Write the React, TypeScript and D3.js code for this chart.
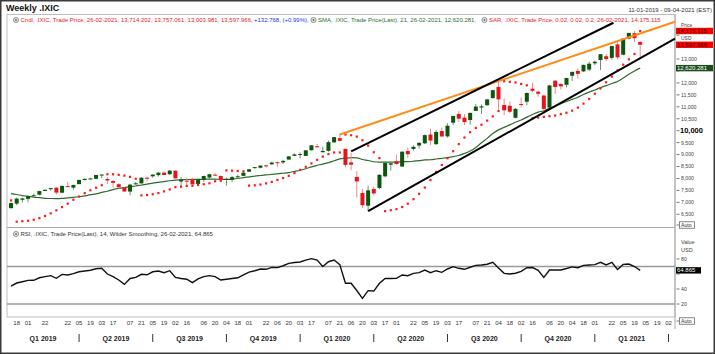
import React, { useEffect } from "react";
import * as d3 from "d3";

const W = 715;
const H = 354;

// weekly candles, Friday 11-01-2019 .. Friday 26-02-2021
const opens = [
  6757, 6947, 7108, 7145, 7263, 7321, 7478, 7555, 7615, 7404, 7680, 7615, 7762, 7936, 7996, 7985,
  8152, 7977, 7892, 7760, 7624, 7450, 7773, 7794, 8031, 8091, 8140, 8245, 8178, 8326, 7872, 7910,
  7962, 7771, 7947, 8040, 8159, 8102, 7970, 7944, 8055, 8110, 8282, 8438, 8448, 8550, 8592, 8680,
  8674, 8791, 8946, 8999, 8943, 9181, 9349, 9100, 9156, 9510, 9688, 9240, 8671, 8064, 7390, 6860,
  7560, 7600, 8090, 8575, 8720, 8500, 9147, 9235, 9380, 9472, 9839, 9436, 9987, 9761, 10335, 10700,
  10547, 10447, 10829, 10970, 11068, 11367, 11830, 11078, 11044, 10540, 11115, 11213, 11757, 11632, 11474, 10965,
  12096, 11957, 11922, 12300, 12501, 12483, 12558, 12821, 12959, 13118, 13050, 13612, 13180, 13859, 14083, 13714,
];
const highs = [
  6986, 7196, 7193, 7295, 7366, 7482, 7534, 7600, 7623, 7701, 7850, 7738, 7949, 7995, 8033, 8147,
  8176, 8062, 7931, 7804, 7640, 7779, 7858, 8053, 8078, 8176, 8257, 8280, 8340, 8340, 8060, 8040,
  8032, 7992, 8116, 8195, 8237, 8128, 8031, 8108, 8163, 8256, 8391, 8482, 8541, 8572, 8707, 8705,
  8782, 8940, 9052, 9093, 9186, 9390, 9451, 9332, 9588, 9738, 9838, 9250, 9071, 8305, 7566, 7700,
  7664, 8180, 8700, 8685, 9000, 9133, 9296, 9391, 9523, 9846, 10087, 10022, 10134, 10310, 10632, 10825,
  10703, 10760, 11109, 11100, 11311, 11715, 12074, 11350, 11217, 10941, 11399, 11594, 12000, 11688, 11490, 11920,
  12110, 11985, 12212, 12465, 12609, 12764, 12889, 12930, 13208, 13216, 13562, 13728, 13878, 14095, 14175, 13757,
];
const lows = [
  6743, 6880, 7000, 7003, 7237, 7292, 7467, 7482, 7332, 7383, 7637, 7525, 7761, 7918, 7968, 7970,
  8014, 7773, 7606, 7582, 7452, 7292, 7731, 7785, 7876, 8031, 8079, 8137, 8151, 7997, 7663, 7693,
  7741, 7740, 7856, 7939, 8112, 7925, 7700, 7855, 7986, 8102, 8271, 8412, 8420, 8450, 8580, 8488,
  8608, 8790, 8939, 8838, 8943, 9170, 9274, 9088, 9120, 9500, 9546, 8464, 8356, 7195, 6771, 6631,
  7287, 7560, 8050, 8325, 8573, 8490, 8856, 9170, 9260, 9440, 9403, 9403, 9757, 9716, 10238, 10360,
  10236, 10250, 10827, 10706, 11045, 11342, 10876, 10657, 10733, 10520, 10984, 11066, 11608, 11424, 10822, 10931,
  11537, 11719, 11809, 12082, 12168, 12463, 12500, 12744, 12543, 12911, 12978, 13004, 13153, 13817, 13711, 13004,
];
const closes = [
  6971, 7157, 7165, 7264, 7298, 7472, 7528, 7595, 7408, 7689, 7643, 7729, 7939, 7984, 8000, 8146,
  8164, 7917, 7816, 7637, 7453, 7742, 7797, 8032, 8006, 8162, 8244, 8146, 8330, 8004, 7959, 7896,
  7752, 7963, 8103, 8177, 8118, 7940, 7982, 8057, 8090, 8243, 8386, 8475, 8541, 8520, 8665, 8657,
  8735, 8925, 9007, 9021, 9179, 9389, 9315, 9151, 9521, 9731, 9577, 8567, 8576, 7875, 6880, 7502,
  7373, 8154, 8650, 8635, 8605, 9121, 9015, 9325, 9490, 9814, 9589, 9946, 9757, 10208, 10617, 10503,
  10363, 10745, 11011, 11019, 11312, 11696, 11313, 10854, 10793, 10914, 11075, 11580, 11672, 11548, 10912, 11895,
  11829, 11855, 12206, 12464, 12378, 12756, 12805, 12888, 13202, 12999, 13543, 13071, 13856, 14095, 13874, 13598,
];
const sma21 = [
  7366, 7329, 7284, 7253, 7219, 7195, 7170, 7161, 7157, 7168, 7191, 7209, 7234, 7269, 7320, 7358,
  7415, 7463, 7534, 7584, 7618, 7655, 7685, 7726, 7762, 7803, 7840, 7869, 7904, 7932, 7945, 7957,
  7958, 7960, 7965, 7974, 7972, 7962, 7965, 7976, 7998, 8035, 8066, 8098, 8123, 8147, 8171, 8191,
  8219, 8247, 8295, 8345, 8407, 8484, 8549, 8599, 8663, 8740, 8818, 8845, 8870, 8860, 8795, 8753,
  8700, 8682, 8688, 8687, 8684, 8703, 8707, 8722, 8744, 8775, 8784, 8814, 8843, 8876, 8918, 8962,
  9048, 9151, 9300, 9497, 9679, 9885, 10035, 10140, 10243, 10353, 10446, 10568, 10680, 10778, 10830, 10940,
  11029, 11129, 11224, 11312, 11402, 11516, 11614, 11703, 11807, 11887, 11975, 12059, 12202, 12359, 12500, 12620,
];
const sar = [
  7080, 6190, 6210, 6230, 6273, 6339, 6430, 6540, 6667, 6801, 6945, 7108, 7242, 7383, 7505, 7611,
  7718, 8176, 8176, 8153, 8119, 8066, 7988, 7292, 7307, 7338, 7388, 7458, 7540, 7636, 7655, 7686,
  7690, 7728, 7757, 7799, 7883, 7905, 8340, 8327, 8314, 8302, 7700, 7714, 7745, 7793, 7855, 7940,
  8017, 8109, 8225, 8357, 8489, 8628, 8780, 8914, 9021, 9088, 9088, 9838, 9811, 9753, 9600, 9374,
  9100, 8853, 6631, 6672, 6713, 6804, 6944, 7132, 7358, 7618, 7930, 8275, 8565, 8847, 9140, 9438,
  9715, 9937, 10115, 10250, 10422, 10600, 10823, 12074, 12046, 12018, 11958, 11900, 10520, 10550, 10579, 10607,
  10635, 10694, 10751, 10839, 10969, 11133, 11329, 11547, 11768, 12027, 12265, 12524, 12765, 12988, 13209, 14175.115,
];
const rsi14 = [
  44, 48, 49.7, 51.5, 51.6, 55, 56.5, 57.8, 54.3, 59.5, 58.7, 60.5, 63, 64, 65, 67,
  67.6, 60, 56.5, 52, 46.2, 54, 55.5, 59.6, 59, 63, 64, 61.8, 64.4, 55.5, 54, 53,
  48.5, 53.5, 56.5, 57.8, 56.5, 52, 53, 54, 55, 59, 62.5, 64.4, 66.7, 66.3, 68.9, 68.5,
  71, 74.2, 75.3, 76, 78.5, 80.5, 78.5, 70, 76.4, 78.7, 72.5, 47.6, 47.6, 38, 27.6, 37.8,
  37.3, 47.6, 54.2, 54, 54.2, 58.7, 57.8, 60.9, 61.8, 65.3, 61.8, 64.4, 62.2, 66.7, 69.8, 67.6,
  66.3, 69, 71.5, 72, 73, 75.6, 68, 60.9, 60, 61, 63.5, 68.4, 68.6, 65, 55.6, 65.3,
  65.3, 65.3, 67.3, 69.5, 68.4, 71.5, 72, 72.5, 75.5, 72, 75.5, 66, 72.8, 73.3, 70, 64.865,
];

// hand drawn lines: [date, price] -> [date, price]
const trendFrom = [["2020-02-21", 9838], ["2020-03-06", 9130], ["2020-03-27", 6631]];
const trendTo = [["2021-04-10", 14561], ["2021-01-24", 14520], ["2021-04-10", 13852]];
const trendColors = ["#ff8c1a", "#000000", "#000000"];

const dateTicks = [
  "2019-01-18", "2019-02-01", "2019-02-22", "2019-03-22", "2019-04-05", "2019-04-19", "2019-05-03", "2019-05-17",
  "2019-06-07", "2019-06-21", "2019-07-05", "2019-07-19", "2019-08-02", "2019-08-16", "2019-09-06", "2019-09-20",
  "2019-10-04", "2019-10-18", "2019-11-01", "2019-11-22", "2019-12-06", "2019-12-20", "2020-01-03", "2020-01-17",
  "2020-02-07", "2020-02-21", "2020-03-06", "2020-03-20", "2020-04-03", "2020-04-17", "2020-05-01", "2020-05-22",
  "2020-06-05", "2020-06-19", "2020-07-03", "2020-07-17", "2020-08-07", "2020-08-21", "2020-09-04", "2020-09-18",
  "2020-10-02", "2020-10-16", "2020-11-06", "2020-11-20", "2020-12-04", "2020-12-18", "2021-01-01", "2021-01-22",
  "2021-02-05", "2021-02-19", "2021-03-05", "2021-03-19", "2021-04-02",
];
const quarterStarts = [
  "2019-04-05", "2019-07-05", "2019-10-04", "2020-01-03", "2020-04-03", "2020-07-03", "2020-10-02", "2021-01-01", "2021-04-02",
];
const quarterLabels = ["Q1 2019", "Q2 2019", "Q3 2019", "Q4 2019", "Q1 2020", "Q2 2020", "Q3 2020", "Q4 2020", "Q1 2021"];

// 12,500 / 13,500 / 14,000 sit under the value boxes, only their dashes show
const priceTicks = [6500, 7000, 7500, 8000, 8500, 9000, 9500, 10000, 10500, 11000, 11500, 12000, 12500, 13000, 13500, 14000];
const hiddenPriceLabels = [12500, 13500, 14000];
const rsiTicks = [20, 40, 80];
const rsiLevels = [70, 20];

const FONT = "'Liberation Sans', Arial, sans-serif";
const UP = "#0d560d";
const DOWN = "#e5141c";

const parse = d3.timeParse("%Y-%m-%d");
const weeks = d3.timeFriday.range(new Date(2019, 0, 11), new Date(2021, 1, 27));

const L = 7;
const R = 675;
const PT = 14.5;
const PB = 227.5;
const RB = 317;

const x = d3.scaleTime().domain([parse("2019-01-06"), parse("2021-04-10")]).range([L, R]);
const y = d3.scaleLinear().domain([5947, 14865]).range([PB, PT]);
const yr = d3.scaleLinear().domain([2.7, 122]).range([RB, PB]);

const fmt = d3.format(",");
const fmt3 = d3.format(",.3f");

const Icon = ({ cx, cy }: { cx: number; cy: number }) => (
  <g>
    <circle cx={cx} cy={cy} r={2.6} fill="#e6e6e6" stroke="#707070" strokeWidth={0.7} />
    <circle cx={cx} cy={cy} r={0.9} fill="#606060" />
  </g>
);

const ValueBox = ({ v, fill, color, width, text }: { v: number; fill: string; color: string; width: number; text: string }) => (
  <g>
    <rect x={676} y={v - 3.2} width={width} height={6.4} fill={fill} />
    <text x={677} y={v + 2} fontSize={6} fill={color}>{text}</text>
  </g>
);

const App = () => {
  useEffect(() => {
    document.body.style.margin = "0";
  }, []);

  const smaLine = d3
    .line<number>()
    .x((d, i) => x(weeks[i]))
    .y((d) => y(d))
    .curve(d3.curveMonotoneX);
  const rsiLine = d3
    .line<number>()
    .x((d, i) => x(weeks[i]))
    .y((d) => yr(d));

  const qx = quarterStarts.map((d) => x(parse(d)!));
  const qBounds = [L, ...qx];

  const lastSar = sar[sar.length - 1];
  const lastSma = sma21[sma21.length - 1];
  const lastRsi = rsi14[rsi14.length - 1];

  return (
    <svg width={W} height={H} style={{ position: "absolute", left: 0, top: 0, fontFamily: FONT }}>
      <rect x={0} y={0} width={W} height={H} fill="#fff" />
      <rect x={0.75} y={0.75} width={W - 1.5} height={H - 1.5} fill="none" stroke="#3a3a3a" strokeWidth={1.5} />

      <text x={6} y={11} fontSize={9} fontWeight="bold" fill="#111">Weekly .IXIC</text>
      <text x={712} y={12} fontSize={6} fill="#333" textAnchor="end">11-01-2019 - 09-04-2021 (EST)</text>

      {/* panel frame */}
      <rect x={L} y={PT} width={R - L} height={RB - PT} fill="none" stroke="#bdbdbd" strokeWidth={1} />
      <line x1={L} x2={R} y1={PB} y2={PB} stroke="#a8a8a8" strokeWidth={1} />
      <line x1={R} x2={R} y1={PT} y2={329} stroke="#a8a8a8" strokeWidth={1} />

      {/* legend */}
      <Icon cx={16} cy={20} />
      <text x={20.5} y={22.2} fontSize={6} fill="#e8202a">
        Cndl, .IXIC, Trade Price, 26-02-2021, 13,714.202, 13,757.061, 13,003.981, 13,597.966,
      </text>
      <text x={254} y={22.2} fontSize={6} fill="#2233ee">+132.768, (+0.99%),</text>
      <Icon cx={313.5} cy={20} />
      <text x={318} y={22.2} fontSize={6} fill="#2d6e2d">
        SMA, .IXIC, Trade Price(Last),  21, 26-02-2021, 12,620.281,
      </text>
      <Icon cx={484.5} cy={20} />
      <text x={489} y={22.2} fontSize={6} fill="#e8202a">
        SAR, .IXIC, Trade Price,  0.02, 0.02, 0.2, 26-02-2021, 14,175.115
      </text>

      {/* SMA */}
      <path d={smaLine(sma21) || ""} fill="none" stroke="#2f6b2f" strokeWidth={1.2} />

      {/* candles */}
      {weeks.map((d, i) => {
        const o = opens[i];
        const c = closes[i];
        const up = c >= o;
        const cx = x(d);
        const top = y(Math.max(o, c));
        const bot = y(Math.min(o, c));
        return (
          <g key={i}>
            <line x1={cx} x2={cx} y1={y(highs[i])} y2={y(lows[i])} stroke={up ? "#6e8f6e" : "#f08a8a"} strokeWidth={1} />
            <rect x={cx - 2} y={top} width={4} height={Math.max(1, bot - top)} fill={up ? UP : DOWN} />
          </g>
        );
      })}

      {/* SAR */}
      {weeks.map((d, i) => (
        <rect key={"s" + i} x={x(d) - 1.1} y={y(sar[i]) - 1.1} width={2.2} height={2.2} fill="#ff1a1a" />
      ))}

      {/* trend lines */}
      {trendFrom.map((f, i) => (
        <line
          key={"t" + i}
          x1={x(parse(f[0] as string)!)}
          y1={y(f[1] as number)}
          x2={x(parse(trendTo[i][0] as string)!)}
          y2={y(trendTo[i][1] as number)}
          stroke={trendColors[i]}
          strokeWidth={2}
        />
      ))}

      {/* price axis */}
      <text x={681} y={27.2} fontSize={5} fill="#444">Price</text>
      <text x={681} y={39.6} fontSize={5} fill="#444">USD</text>
      {priceTicks.map((v) => (
        <g key={"p" + v}>
          <line x1={676.5} x2={679.5} y1={y(v)} y2={y(v)} stroke="#555" strokeWidth={0.8} />
          {hiddenPriceLabels.includes(v) ? null : v === 10000 ? (
            <text x={680} y={y(v) + 2.6} fontSize={7.5} fontWeight="bold" fill="#000">{fmt(v)}</text>
          ) : (
            <text x={681} y={y(v) + 1.9} fontSize={5.2} fill="#444">{fmt(v)}</text>
          )}
        </g>
      ))}
      <ValueBox v={y(lastSar)} fill="#ff0000" color="#111" width={37} text={fmt3(lastSar)} />
      <ValueBox v={y(13597.966)} fill="#ff0000" color="#111" width={37} text="13,597.966" />
      <ValueBox v={y(lastSma)} fill="#1c4d1c" color="#fff" width={37} text="12,620.281" />
      <line x1={676.5} x2={679.5} y1={225} y2={225} stroke="#555" strokeWidth={0.8} />
      <rect x={679.5} y={221.8} width={15} height={6.4} fill="#fff" stroke="#555" strokeWidth={0.7} />
      <text x={681} y={226.8} fontSize={5.2} fill="#333">Auto</text>

      {/* RSI */}
      <Icon cx={16} cy={234} />
      <text x={20.5} y={236.2} fontSize={6} fill="#333">
        RSI, .IXIC, Trade Price(Last),  14, Wilder Smoothing, 26-02-2021, 64.865
      </text>
      {rsiLevels.map((v) => (
        <line key={"l" + v} x1={L} x2={R} y1={yr(v)} y2={yr(v)} stroke="#9a9a9a" strokeWidth={1.3} />
      ))}
      <path d={rsiLine(rsi14) || ""} fill="none" stroke="#111" strokeWidth={1.4} />
      <text x={681} y={243.5} fontSize={5.5} fill="#444">Value</text>
      <text x={681} y={251.5} fontSize={5.5} fill="#444">USD</text>
      {rsiTicks.map((v) => (
        <g key={"r" + v}>
          <line x1={676.5} x2={679.5} y1={yr(v)} y2={yr(v)} stroke="#555" strokeWidth={0.8} />
          <text x={681} y={yr(v) + 1.9} fontSize={5.2} fill="#444">{v}</text>
        </g>
      ))}
      <line x1={676.5} x2={679.5} y1={yr(60)} y2={yr(60)} stroke="#555" strokeWidth={0.8} />
      <ValueBox v={yr(lastRsi)} fill="#000" color="#fff" width={25} text={lastRsi.toFixed(3)} />
      <line x1={676.5} x2={679.5} y1={321} y2={321} stroke="#555" strokeWidth={0.8} />
      <rect x={679.5} y={317.8} width={15} height={6.4} fill="#fff" stroke="#555" strokeWidth={0.7} />
      <text x={681} y={322.8} fontSize={5.2} fill="#333">Auto</text>

      {/* time axis */}
      {dateTicks.map((d) => (
        <text key={d} x={x(parse(d)!)} y={324.5} fontSize={6} fill="#333" textAnchor="middle">
          {d.slice(8)}
        </text>
      ))}
      {qx.map((v, i) => (
        <line key={"q" + i} x1={v} x2={v} y1={334} y2={342} stroke="#333" strokeWidth={1} />
      ))}
      {quarterLabels.map((q, i) => (
        <text
          key={q}
          x={(qBounds[i] + qBounds[i + 1]) / 2}
          y={341}
          fontSize={7}
          fontWeight="bold"
          fill="#222"
          textAnchor="middle"
        >
          {q}
        </text>
      ))}
    </svg>
  );
};

export default App;
